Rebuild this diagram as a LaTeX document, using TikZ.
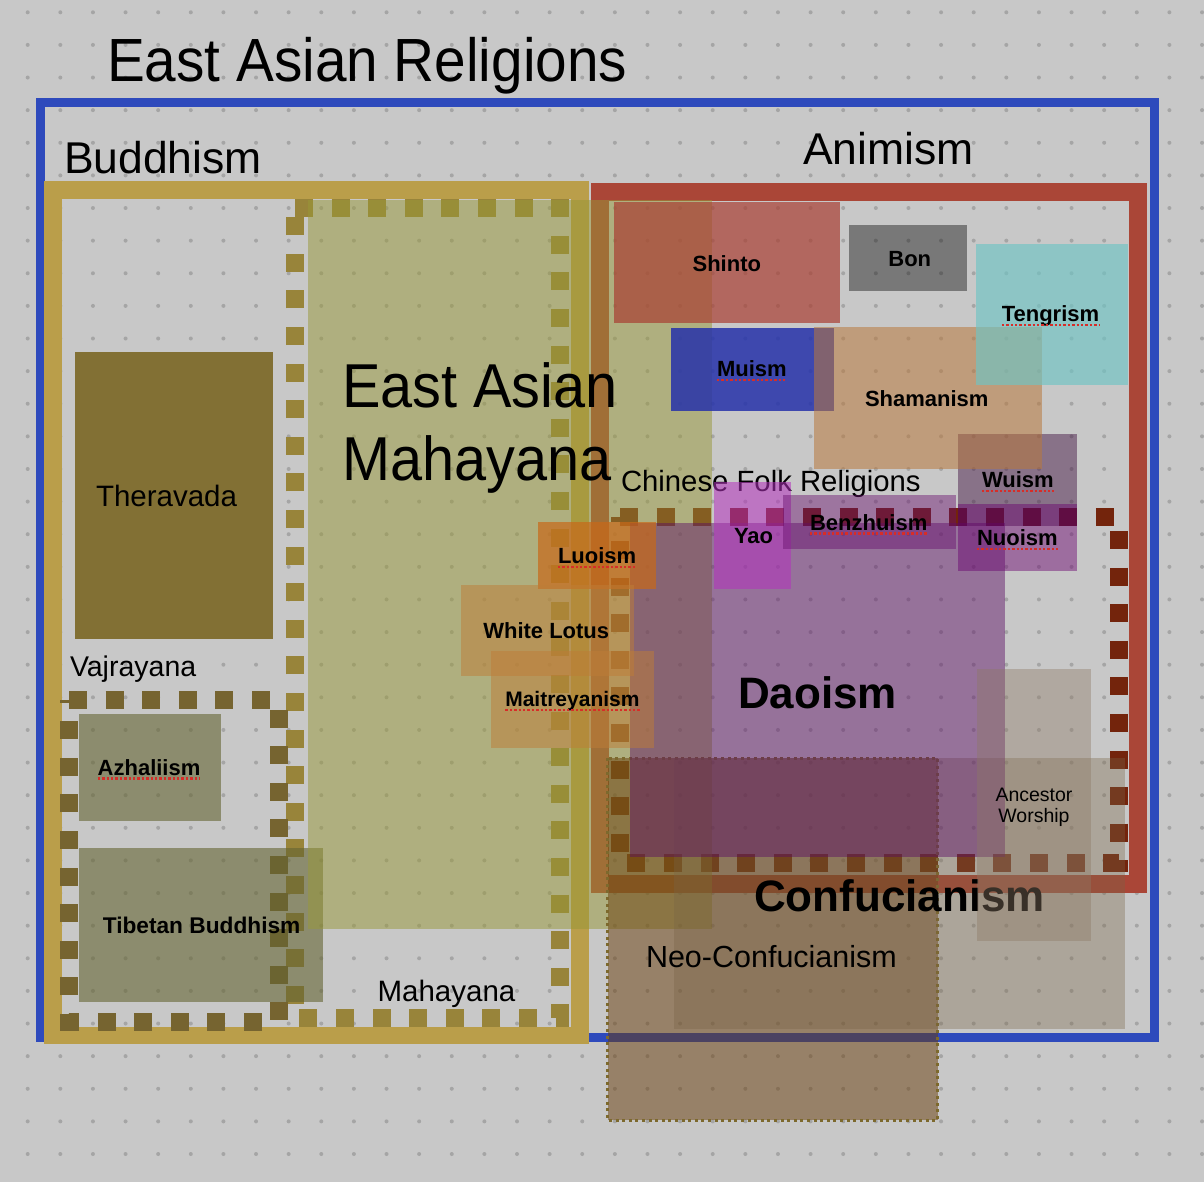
\documentclass[tikz,border=0pt]{standalone}
\usepackage{fontspec}
\setmainfont{Liberation Sans}
\newfontfamily\bigfont[FakeStretch=0.93]{Liberation Sans}
\definecolor{bgc}{RGB}{200,200,200}
\definecolor{dotc}{RGB}{165,165,165}
\definecolor{bluec}{RGB}{46,74,188}
\definecolor{goldc}{RGB}{186,158,74}
\definecolor{therac}{RGB}{130,112,52}
\definecolor{mahad}{RGB}{152,132,58}
\definecolor{vajd}{RGB}{118,100,48}
\definecolor{vajbox}{RGB}{100,100,50}
\definecolor{redc}{RGB}{170,70,55}
\definecolor{cfrd}{RGB}{115,36,12}
\definecolor{fillc}{RGB}{152,152,56}
\definecolor{shintoc}{RGB}{169,63,51}
\definecolor{muismc}{RGB}{38,50,170}
\definecolor{shamc}{RGB}{185,120,60}
\definecolor{tengc}{RGB}{110,196,196}
\definecolor{wuc}{RGB}{60,10,60}
\definecolor{nuoc}{RGB}{105,0,110}
\definecolor{benzc}{RGB}{105,16,110}
\definecolor{yaoc}{RGB}{180,50,190}
\definecolor{daoc}{RGB}{90,10,100}
\definecolor{luoc}{RGB}{200,105,25}
\definecolor{lotusc}{RGB}{190,125,55}
\definecolor{neoc}{RGB}{104,60,10}
\definecolor{neob}{RGB}{125,105,45}
\definecolor{confc}{RGB}{120,100,70}
\definecolor{awc}{RGB}{140,120,100}
\definecolor{ulc}{RGB}{215,45,40}
\begin{document}
\begin{tikzpicture}[x=1pt,y=-1pt,
  lbl/.style={inner sep=0pt, outer sep=0pt, anchor=base west, text=black},
  sml/.style={lbl, font=\bfseries\fontsize{22}{26}\selectfont},
  reg/.style={lbl, font=\fontsize{#1}{#1}\selectfont},
  uline/.style={draw=ulc, line width=2.4pt, dash pattern=on 2.4pt off 2pt},
  dashbox/.style={line width=18pt, dash pattern=on 18pt off 18.6pt}
]
\useasboundingbox (0,0) rectangle (1204,1182);
\fill[bgc] (0,0) rectangle (1204,1182);
\foreach \i in {0,...,36}{\foreach \j in {0,...,35}{\fill[dotc] ({27.7+32.62*\i},{12.3+32.62*\j}) circle (2pt);}}
% frames
\draw[bluec, line width=8.5pt] (40.6,102.5) rectangle (1154.5,1037.5);
\draw[goldc, line width=17.5pt] (53,190) rectangle (580,1035.5);
\fill[therac] (75,352) rectangle (273,638.7);
\draw[mahad, dashbox] (295,208) -- (560,208) -- (560,1018) -- (295,1018) -- cycle;
\draw[vajd, dashbox] (69,700) -- (279,700) -- (279,1022) -- (69,1022) -- cycle;
\fill[vajbox, fill opacity=0.6] (79,714) rectangle (220.6,821);
\fill[vajbox, fill opacity=0.6] (79,848) rectangle (323,1001.7);
\draw[redc, line width=18pt] (600,192.5) rectangle (1138,884);
\draw[cfrd, dashbox] (620,517) -- (1118.5,517) -- (1118.5,863) -- (620,863) -- cycle;
\fill[fillc, fill opacity=0.5] (308,200) rectangle (712,928.5);
% animism boxes
\fill[shintoc, fill opacity=0.7] (614,202) rectangle (840,322.7);
\fill[black, fill opacity=0.4] (849,225) rectangle (967,290.7);
\fill[muismc, fill opacity=0.85] (671,328) rectangle (833.5,410.7);
\fill[wuc, fill opacity=0.45] (958,434) rectangle (1077,526);
\fill[shamc, fill opacity=0.55] (814,327.3) rectangle (1041.6,468.7);
\fill[tengc, fill opacity=0.65] (976,244) rectangle (1128,385);
% confucianism
\fill[neoc, fill opacity=0.5] (607.7,758.3) rectangle (937.7,1120);
\draw[neob, line width=3pt, dash pattern=on 3pt off 3.6pt] (607.7,758.3) rectangle (937.7,1120);
\fill[confc, fill opacity=0.35] (674,758.3) rectangle (1125,1029.3);
\node[lbl, font=\bfseries\fontsize{44}{50}\selectfont] (conf) at (754,911.7) {Confucianism};
\node[reg=29.3] (cfr) at (621,491) {Chinese Folk Religions};
% folk boxes
\fill[daoc, fill opacity=0.45] (630,523) rectangle (1005,857);
\fill[yaoc, fill opacity=0.55] (714,482.3) rectangle (791,588.7);
\fill[benzc, fill opacity=0.45] (783,495) rectangle (956,548.7);
\fill[nuoc, fill opacity=0.45] (958,504) rectangle (1077,571);
\fill[luoc, fill opacity=0.7] (538,522.3) rectangle (656,589);
\fill[lotusc, fill opacity=0.5] (461,585) rectangle (634,675.7);
\fill[lotusc, fill opacity=0.5] (491,651) rectangle (654,747.7);
\fill[awc, fill opacity=0.4] (977,669) rectangle (1091,940.7);
% titles
\node[lbl, font=\bigfont\fontsize{61}{70}\selectfont] (title) at (107,82) {East Asian Religions};
\node[reg=44.5] (budd) at (64,173.5) {Buddhism};
\node[reg=44.5] (anim) at (803,164.5) {Animism};
\node[lbl, font=\bigfont\fontsize{62}{72}\selectfont] (eam1) at (342,407.7) {East Asian};
\node[lbl, font=\bigfont\fontsize{62}{72}\selectfont] (eam2) at (342,480) {Mahayana};
\node[reg=29.5] (thera) at (96,506.7) {Theravada};
\node[reg=28.5] (vajra) at (70,676) {Vajrayana};
\node[reg=29.5] (maha) at (377.6,1001.7) {Mahayana};
\node[reg=30.5] (neo) at (646,967.7) {Neo-Confucianism};
\node[lbl, font=\bfseries\fontsize{44}{50}\selectfont] (dao) at (738,708.3) {Daoism};
\node[inner sep=0pt, align=center, font=\fontsize{19.5}{21.6}\selectfont] (aw) at (1034,807.5) {Ancestor\\Worship};
% small labels
\node[sml] (shinto) at (692.6,271.7) {Shinto};
\node[sml] (bon) at (888.4,266.7) {Bon};
\node[sml] (teng) at (1001.8,321.7) {Tengrism};
\node[sml] (mu) at (717,376.7) {Muism};
\node[sml] (sham) at (865,406.7) {Shamanism};
\node[sml] (wu) at (982,487.7) {Wuism};
\node[sml] (benz) at (810,530) {Benzhuism};
\node[sml] (nuo) at (977,545.3) {Nuoism};
\node[sml] (yao) at (734,543.3) {Yao};
\node[sml] (luo) at (558,563.3) {Luoism};
\node[sml] (lotus) at (483.3,638.3) {White Lotus};
\node[sml, font=\bfseries\fontsize{21}{25}\selectfont] (mait) at (505.3,706.7) {Maitreyanism};
\node[sml] (azh) at (97.7,775) {Azhaliism};
\node[sml, font=\bfseries\fontsize{22.7}{26}\selectfont] (tib) at (102.8,933) {Tibetan Buddhism};
\foreach \n in {teng,mu,wu,benz,nuo,luo,mait,azh}
  \draw[uline] ([yshift=-3.5pt]\n.base west) -- ([yshift=-3.5pt]\n.base east);
\end{tikzpicture}
\end{document}
